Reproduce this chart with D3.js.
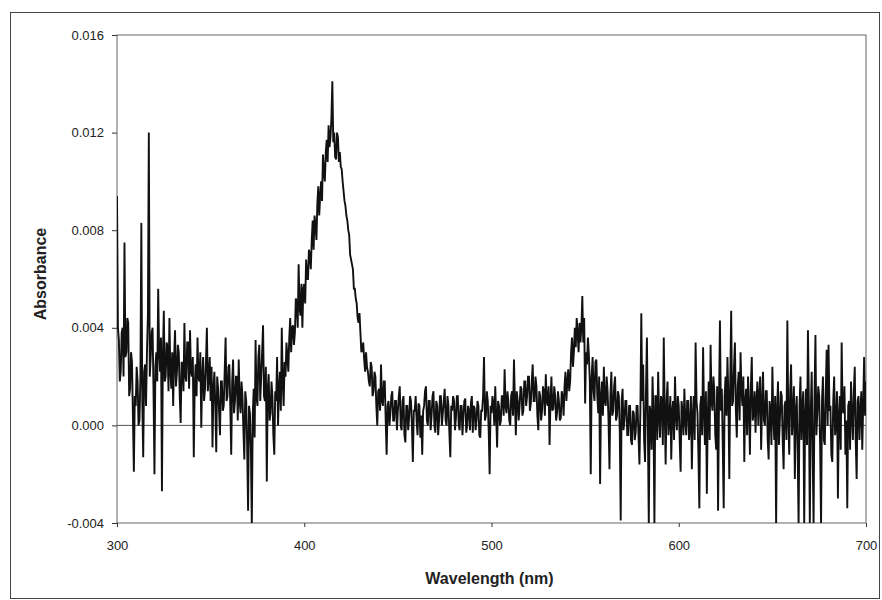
<!DOCTYPE html>
<html>
<head>
<meta charset="utf-8">
<script src="https://cdn.jsdelivr.net/npm/d3@7"></script>
<style>
  body { margin: 0; background: #fff; }
  text { font-family: "Liberation Sans", Arial, sans-serif; fill: #222; }
  .axis path, .axis line { stroke: #333; }
</style>
</head>
<body>
<div id="chart"></div>
<script>
// wavelength range (nm), 0.5 nm steps
var wlStart = 300, wlEnd = 700;

// absorbance, in units of 1e-4 (one row = 5 nm)
var absorbanceE4 = [
  94, 40, 35, 18, 22, 38, 40, 20, 75, 28,
  30, 44, 42, 12, 15, 30, 26, 4, -19, 12,
  8, 24, 18, 0, 2, 20, 83, 10, -13, 22,
  25, 8, 30, 45, 120, 20, 28, 38, 40, 14,
  -20, 24, 30, 18, 56, 30, 22, 36, -27, 28,
  47, 18, 20, 34, 32, 14, 44, 22, 15, 30,
  8, 28, 39, 16, 22, 33, 30, 12, 1, 26,
  25, 14, 42, 20, 18, 34, 34, 15, 39, 22,
  20, 28, -13, 16, 25, 12, 36, 20, 18, 30,
  -1, 20, 28, 10, 15, 26, 40, 14, 20, 28,
  10, 24, -9, 15, 22, 8, -11, 20, 15, 6,
  -4, 18, 18, 6, 8, 22, 36, 10, 12, 24,
  25, 8, -12, 18, 27, 5, 10, 20, 20, 2,
  27, 10, 5, 18, 12, -2, -14, 14, 10, -8,
  -35, 8, 5, -10, -41, 4, 15, -5, 35, 12,
  8, 28, 33, 10, 20, 30, 41, 12, 10, 24,
  -23, 15, 21, 2, 5, 18, 12, -4, -12, 14,
  10, 28, 0, 15, 22, 6, 40, 18, 8, 26,
  20, 34, 28, 22, 36, 44, 30, 40, 41, 33,
  38, 52, 50, 40, 66, 48, 45, 58, 40, 56,
  58, 50, 68, 60, 60, 72, 70, 64, 76, 84,
  72, 86, 82, 76, 91, 98, 86, 94, 100, 92,
  111, 104, 100, 112, 117, 108, 123, 114, 118, 126,
  141, 116, 120, 110, 109, 120, 118, 108, 112, 106,
  105, 100, 96, 92, 90, 86, 84, 80, 78, 70,
  68, 66, 64, 56, 56, 52, 50, 44, 42, 46,
  38, 30, 31, 34, 27, 22, 30, 24, 22, 18,
  16, 26, 24, 12, 14, 22, 20, 8, 0, 14,
  15, 6, 25, 10, 8, 18, 18, 2, -12, 8,
  10, 0, 5, 12, 14, 2, 2, 10, 10, -2,
  6, 12, 16, 0, -2, 10, 12, -4, -7, 8,
  8, -2, 3, 12, 10, 0, -15, 6, 6, 12,
  2, -4, 9, 8, -5, 4, -12, 6, 8, 14,
  16, 2, 0, 10, 10, -2, 4, 12, 14, 0,
  -3, 10, 8, -4, 2, 12, 12, 0, 5, 10,
  15, 2, 0, 12, 8, -3, -13, 8, 6, 12,
  10, -2, 3, 12, 12, 0, -2, 8, 8, -4,
  4, 10, 11, -3, 0, 8, 6, -2, 9, 12,
  -3, 8, 7, -2, 2, 10, 8, -4, -5, 6,
  6, 12, 28, 2, 4, 14, 10, -2, -20, 8,
  5, 12, 9, 0, 16, 4, -9, 10, 8, 0,
  2, 12, 12, 4, 23, 8, 5, 14, 10, 2,
  0, 12, 14, 4, 27, 10, -4, 14, 10, 2,
  8, 16, 15, 4, 6, 18, 18, 8, 12, 20,
  20, 6, 9, 18, 25, 10, 10, 20, 16, 4,
  -2, 14, 12, 2, 6, 16, 14, 4, 21, 10,
  8, 16, -8, 10, 20, 6, 7, 16, 12, 2,
  5, 14, 10, 2, 3, 14, 12, 4, 16, 22,
  10, 18, 23, 14, 18, 30, 36, 24, 30, 40,
  32, 44, 38, 30, 42, 34, 40, 53, 34, 44,
  9, 30, 25, 36, 29, 18, -20, 20, 28, 14,
  10, 26, 27, 12, 5, 20, -24, 12, 18, 4,
  24, 10, 8, 20, 14, 2, -18, 12, 22, 4,
  6, 16, 20, 2, 4, 14, 12, -2, -39, 10,
  15, -2, 2, 10, 10, -4, -4, 8, 8, -6,
  -8, 6, 5, -6, -3, 8, 8, -4, -16, 6,
  46, 10, 25, -6, -15, 14, 36, 0, -41, 8,
  5, -10, 20, 4, -41, 12, 12, -6, 22, 4,
  -5, 12, 10, -8, 36, 6, -16, 10, 18, -4,
  2, 12, -14, 6, 10, -6, 20, 4, -2, 12,
  8, -6, -19, 10, 6, -4, 15, 2, -4, 10,
  10, -6, 0, 12, -18, 4, 12, -6, 34, 10,
  5, -12, -34, 8, 12, -4, 32, 6, -8, 14,
  -28, 4, 18, -6, 33, 10, 6, 20, 14, -4,
  -10, 16, -35, 10, 43, 6, 15, -8, -34, 12,
  20, 4, 28, 12, -22, 18, 47, 8, 10, 24,
  34, 6, -5, 16, 22, 2, 30, 14, 8, 20,
  -15, 10, 15, -4, 20, 8, -12, 16, 28, 2,
  5, 14, -3, 10, 18, 0, 12, 20, -10, 8,
  22, 2, 0, 14, 14, -6, -14, 10, 6, -8,
  24, 4, -6, 12, -41, 6, 18, -8, 2, 14,
  12, -6, -18, 8, 10, -6, 43, 4, -12, 14,
  25, -4, 5, 16, -22, 6, 12, -10, -41, 8,
  20, -6, 8, 14, -41, 4, 15, -8, 39, 10,
  -41, 6, 22, -10, -41, 12, 37, -4, 5, 16,
  12, -8, -41, 10, 20, -6, -8, 14, 31, 0,
  33, 6, 8, -12, -15, 10, 20, -4, 2, 14,
  -30, 4, 12, -10, 34, 6, 5, 16, -12, 2,
  -34, 8, 10, -10, 18, 4, -6, 14, 24, -6,
  -22, 10, 12, -6, 6, 14, -10, 8, 28, 4,
  18
];

var xTicks = [300, 400, 500, 600, 700];
var yTicks = [-0.004, 0, 0.004, 0.008, 0.012, 0.016];

var step = (wlEnd - wlStart) / (absorbanceE4.length - 1);
var data = absorbanceE4.map(function(v, i) {
  return { wl: wlStart + i * step, abs: v / 1e4 };
});

var W = 882, H = 600;
var margin = {top: 35, right: 16, bottom: 77, left: 117},
    width = W - margin.left - margin.right,
    height = H - margin.top - margin.bottom;

var svg = d3.select("#chart")
  .append("svg")
    .attr("width", W)
    .attr("height", H);

// outer chart frame
svg.append("rect")
  .attr("x", 10.5).attr("y", 12.5)
  .attr("width", 869).attr("height", 586)
  .attr("fill", "none")
  .attr("stroke", "#444")
  .attr("stroke-width", 1);

var g = svg.append("g")
  .attr("transform", "translate(" + margin.left + "," + margin.top + ")");

var x = d3.scaleLinear().domain([wlStart, wlEnd]).range([0, width]);
var y = d3.scaleLinear().domain([-0.004, 0.016]).range([height, 0]);

// plot area border
g.append("rect")
  .attr("x", 0).attr("y", 0)
  .attr("width", width).attr("height", height)
  .attr("fill", "none")
  .attr("stroke", "#666")
  .attr("stroke-width", 1);

// zero line
g.append("line")
  .attr("x1", 0).attr("x2", width)
  .attr("y1", y(0)).attr("y2", y(0))
  .attr("stroke", "#555")
  .attr("stroke-width", 1);

g.append("clipPath").attr("id", "clip")
  .append("rect").attr("width", width).attr("height", height);

var line = d3.line()
  .x(function(d) { return x(d.wl); })
  .y(function(d) { return y(d.abs); });

g.append("path")
  .datum(data)
  .attr("clip-path", "url(#clip)")
  .attr("fill", "none")
  .attr("stroke", "#111")
  .attr("stroke-width", 1.9)
  .attr("stroke-linejoin", "miter")
  .attr("d", line);

// axes
g.append("g")
  .attr("class", "axis")
  .attr("transform", "translate(0," + height + ")")
  .call(d3.axisBottom(x).tickValues(xTicks).tickSize(4).tickPadding(14).tickFormat(d3.format("d")))
  .call(function(a) { a.select(".domain").remove(); })
  .selectAll("text").attr("font-size", "13px");

g.append("g")
  .attr("class", "axis")
  .call(d3.axisLeft(y).tickValues(yTicks).tickSize(5).tickPadding(8)
    .tickFormat(function(d) { return d.toFixed(3); }))
  .call(function(a) { a.select(".domain").remove(); })
  .selectAll("text").attr("font-size", "13px");

// axis titles
svg.append("text")
  .attr("x", margin.left + width / 2 - 2)
  .attr("y", 584)
  .attr("text-anchor", "middle")
  .attr("font-size", "16px")
  .attr("font-weight", "bold")
  .text("Wavelength (nm)");

svg.append("text")
  .attr("transform", "translate(46," + (margin.top + height / 2 - 5) + ") rotate(-90)")
  .attr("text-anchor", "middle")
  .attr("font-size", "16px")
  .attr("font-weight", "bold")
  .text("Absorbance");
</script>
</body>
</html>
